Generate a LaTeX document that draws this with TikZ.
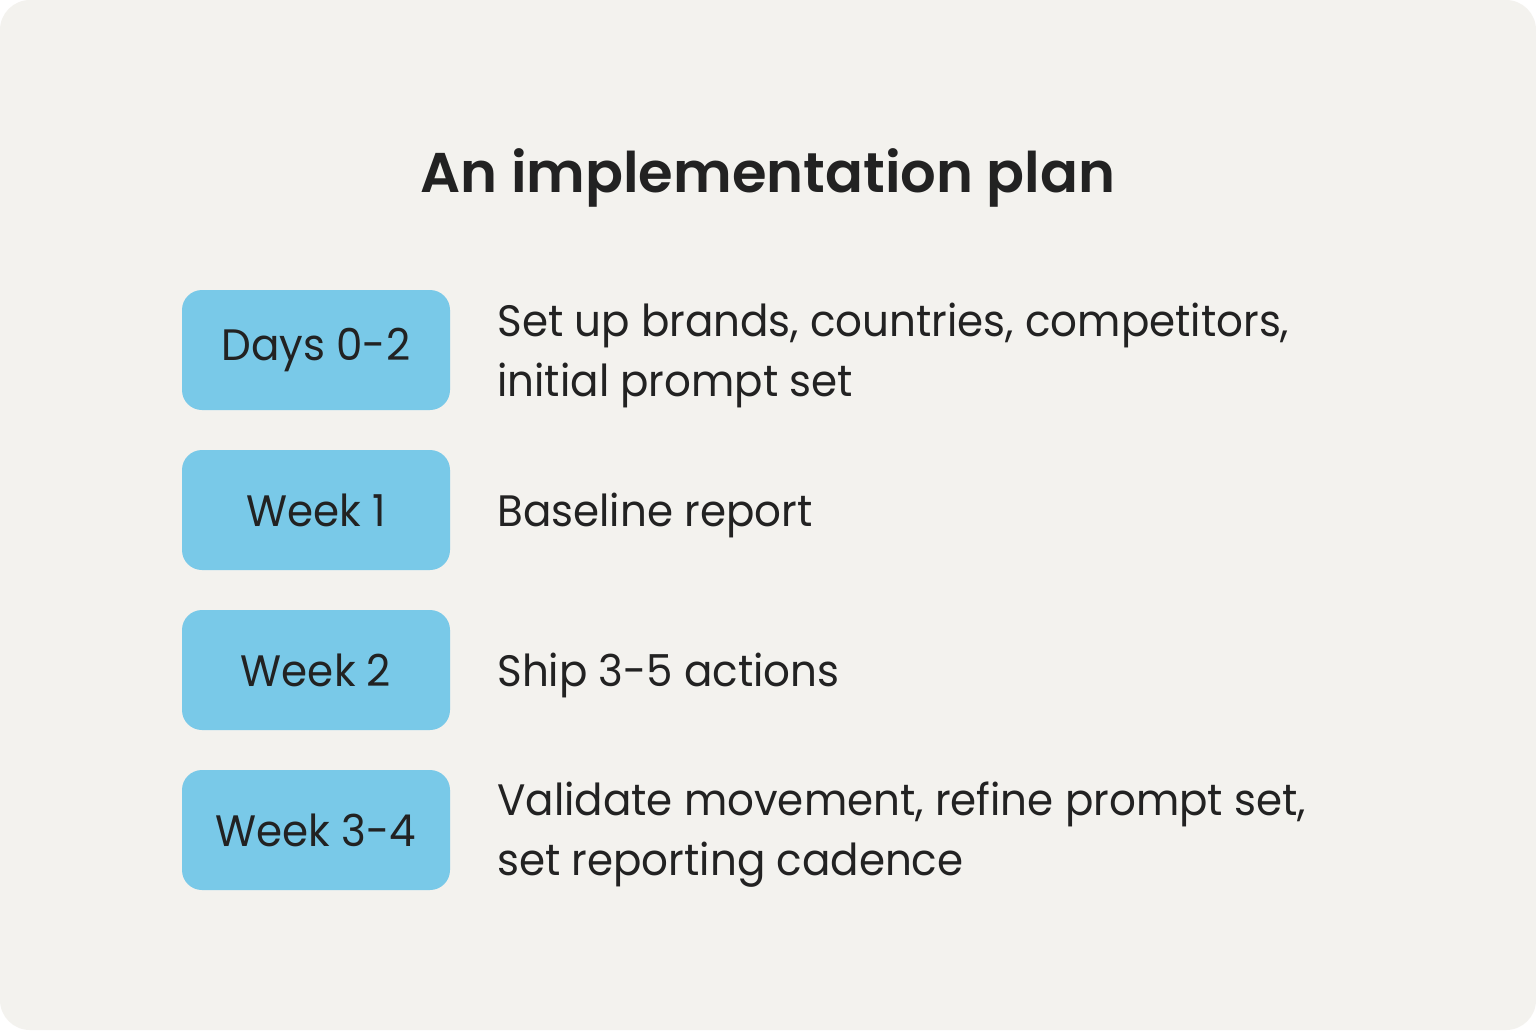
\documentclass[tikz,border=0pt]{standalone}
\usepackage{fontspec}
\setmainfont{Poppins}[FakeStretch=0.955]
\newfontfamily\titlefont{Poppins SemiBold}
\usetikzlibrary{positioning}
\definecolor{paper}{HTML}{F3F2EE}
\definecolor{skyblue}{HTML}{79C9E8}
\definecolor{ink}{HTML}{222222}
\tikzset{phase/.style={fill=skyblue,rounded corners=10pt,minimum width=134pt,minimum height=60pt,inner sep=0,text=ink,font=\fontsize{22}{30}\selectfont},
         task/.style={anchor=west,align=left,inner sep=0,text=ink,font=\fontsize{22}{30}\selectfont}
}
\begin{document}
\begin{tikzpicture}[x=0.5pt,y=-0.5pt]
  \fill[white](0,0)rectangle(1536,1030);
  \fill[paper,rounded corners=15pt](0,0)rectangle(1536,1030);
  \node[font=\titlefont\fontsize{28}{34}\selectfont,text=ink](title)at(768,178){An implementation plan};
  \foreach\y/\name/\when/\what in {350/days/Days 0-2/{Set up brands, countries, competitors,\\initial prompt set},
                                   510/wone/Week 1/Baseline report,
                                   670/wtwo/Week 2/Ship 3-5 actions,
                                   830/wthree/Week 3-4/{Validate movement, refine prompt set,\\set reporting cadence}} {
     \node[phase](\name)at(316,\y){\when};
     \node[task](\name-task)at(497,\y+5){\what};
   }
\end{tikzpicture}
\end{document}
